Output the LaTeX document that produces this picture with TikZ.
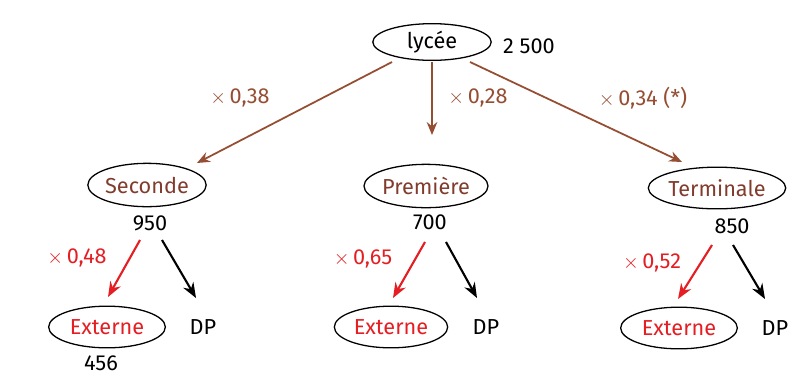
\documentclass[tikz,border=0pt]{standalone}
\usepackage{fontspec}
\setmainfont{Fira Sans}
\usetikzlibrary{shapes.geometric,arrows.meta}
\definecolor{brn}{RGB}{150,78,50}
\definecolor{brntxt}{RGB}{130,60,45}
\definecolor{rd}{RGB}{228,30,35}
\begin{document}
\begin{tikzpicture}[x=0.03cm,y=-0.03cm,
  every node/.style={font=\fontsize{18.5}{20}\selectfont, inner sep=0pt},
  ell/.style={ellipse, draw=black, line width=1.1pt},
  brarrow/.style={draw=brn, line width=1.5pt, -{Stealth[length=11pt,width=9pt]}},
  rarrow/.style={draw=rd, line width=1.8pt, -{Stealth[length=13pt,width=10pt]}},
  karrow/.style={draw=black, line width=1.8pt, -{Stealth[length=13pt,width=10pt]}},
  brlab/.style={text=brn},
  rlab/.style={text=rd}]
\fill[white] (0,0) rectangle (791,380);
\useasboundingbox (0,0) rectangle (791,380);
% top
\node[ell, minimum width=3.55cm, minimum height=1.1cm] (lyc) at (432,42) {lycée};
\node[anchor=west] (tot) at (503,46) {2 500};
% level 2
\node[ell, text=brntxt, minimum width=3.5cm, minimum height=1.3cm] (sec) at (147,185) {Seconde};
\node[ell, text=brntxt, minimum width=3.2cm, minimum height=1.3cm] (pre) at (426,186) {Première};
\node[ell, text=brntxt, minimum width=3.45cm, minimum height=1.25cm] (ter) at (717,188) {Terminale};
\node (n950) at (150,223) {950};
\node (n700) at (430,222) {700};
\node (n850) at (732,226) {850};
% brown arrows
\coordinate (s1) at (392,62);
\coordinate (s2) at (432,62);
\coordinate (s3) at (470,62);
\coordinate (e1) at (197,163);
\coordinate (e2) at (432,135);
\coordinate (e3) at (682,162);
\draw[brarrow] (s1) -- (e1);
\draw[brarrow] (s2) -- (e2);
\draw[brarrow] (s3) -- (e3);
\node[brlab] (l1) at (240,98) {$\times$\,0,38};
\node[brlab] (l2) at (478,98) {$\times$\,0,28};
\node[brlab] (l3) at (643,98) {$\times$\,0,34 (*)};
% level 3
\node[ell, text=rd, minimum width=3.5cm, minimum height=1.25cm] (ex1) at (107,327) {Externe};
\node[ell, text=rd, minimum width=3.4cm, minimum height=1.25cm] (ex2) at (391,327) {Externe};
\node[ell, text=rd, minimum width=3.5cm, minimum height=1.25cm] (ex3) at (679,328) {Externe};
\node (dp1) at (203,327) {DP};
\node (dp2) at (486,327) {DP};
\node (dp3) at (775,328) {DP};
\node (n456) at (101,363) {456};
% red / black arrows
\coordinate (a1) at (140,240); \coordinate (b1) at (162,240);
\coordinate (a2) at (425,242); \coordinate (b2) at (446,242);
\coordinate (a3) at (712,245); \coordinate (b3) at (733,245);
\coordinate (ta1) at (108,297); \coordinate (tb1) at (196,298);
\coordinate (ta2) at (393,298); \coordinate (tb2) at (477,298);
\coordinate (ta3) at (678,299); \coordinate (tb3) at (765,299);
\draw[rarrow] (a1) -- (ta1);
\draw[karrow] (b1) -- (tb1);
\draw[rarrow] (a2) -- (ta2);
\draw[karrow] (b2) -- (tb2);
\draw[rarrow] (a3) -- (ta3);
\draw[karrow] (b3) -- (tb3);
\node[rlab] (r1) at (77,258) {$\times$\,0,48};
\node[rlab] (r2) at (363,259) {$\times$\,0,65};
\node[rlab] (r3) at (652,263) {$\times$\,0,52};
\end{tikzpicture}
\end{document}
